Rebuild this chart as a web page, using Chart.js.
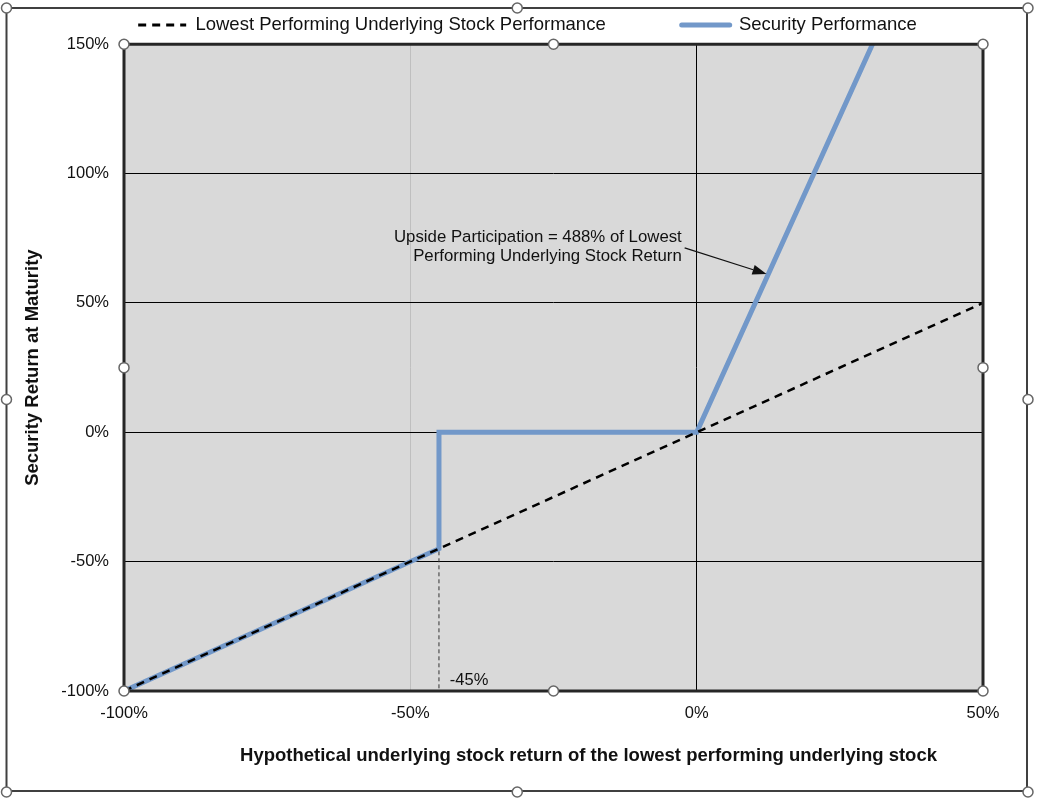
<!DOCTYPE html>
<html><head><meta charset="utf-8">
<script src="https://cdn.jsdelivr.net/npm/chart.js@4/dist/chart.umd.min.js"></script>
<style>html,body{margin:0;padding:0;background:#fff;} canvas{display:block;}</style>
</head><body>
<canvas id="c" width="1038" height="801"></canvas>
<script>
// ---- data ----
const xTicks = [-100, -50, 0, 50];
const yTicks = [-100, -50, 0, 50, 100, 150];
const seriesNames = ['Lowest Performing Underlying Stock Performance', 'Security Performance'];
const underlyingX = [-100, 50];
const underlyingY = [-100, 50];
const securityX = [-100, -45, -45, 0, 30.7];
const securityY = [-100, -45, 0, 0, 150];
const barrierX = [-45, -45];
const barrierY = [0, -100];
const xTitle = 'Hypothetical underlying stock return of the lowest performing underlying stock';
const yTitle = 'Security Return at Maturity';
const noteLines = ['Upside Participation = 488% of Lowest', 'Performing Underlying Stock Return'];
const barrierLabel = '-45%';

// annotation anchors (data units)
const notePos = { textX: -2.6, lineY: [75.3, 68.0], arrowFrom: [-2.1, 71.3], arrowTo: [12.2, 61.2] };
const barrierLabelPos = { x: -43.1, y: -96.1 };

const F = '"Liberation Sans", Arial, Helvetica, sans-serif';
const BLUE = 'rgb(114,152,201)';
Chart.defaults.font.family = F;

const pts = (xs, ys) => xs.map((x, i) => ({ x: x, y: ys[i] }));

const decor = {
  id: 'decor',
  afterLayout(chart) {
    // Excel places the x title slightly right of the plot centre
    chart.scales.x.right += 70;
  },
  beforeDraw(chart) {
    const { ctx, chartArea: a } = chart;
    ctx.save();
    ctx.fillStyle = '#fff';
    ctx.fillRect(0, 0, chart.width, chart.height);
    ctx.fillStyle = '#d9d9d9';
    ctx.fillRect(a.left, a.top, a.right - a.left, a.bottom - a.top);
    ctx.restore();
  },
  afterDatasetsDraw(chart) {
    const { ctx } = chart;
    const xs = chart.scales.x, ys = chart.scales.y;
    ctx.save();
    ctx.fillStyle = '#111';
    ctx.font = '16.8px ' + F;
    ctx.textAlign = 'right';
    ctx.textBaseline = 'middle';
    noteLines.forEach((t, i) => ctx.fillText(t, xs.getPixelForValue(notePos.textX), ys.getPixelForValue(notePos.lineY[i])));
    // arrow
    const x1 = xs.getPixelForValue(notePos.arrowFrom[0]), y1 = ys.getPixelForValue(notePos.arrowFrom[1]);
    const x2 = xs.getPixelForValue(notePos.arrowTo[0]), y2 = ys.getPixelForValue(notePos.arrowTo[1]);
    const ang = Math.atan2(y2 - y1, x2 - x1), hl = 14, hw = 5;
    const bx = x2 - hl * Math.cos(ang), by = y2 - hl * Math.sin(ang);
    ctx.strokeStyle = '#111'; ctx.lineWidth = 1.2;
    ctx.beginPath(); ctx.moveTo(x1, y1); ctx.lineTo(bx, by); ctx.stroke();
    ctx.beginPath();
    ctx.moveTo(x2, y2);
    ctx.lineTo(bx + hw * Math.sin(ang), by - hw * Math.cos(ang));
    ctx.lineTo(bx - hw * Math.sin(ang), by + hw * Math.cos(ang));
    ctx.closePath(); ctx.fill();
    // barrier label
    ctx.font = '16.5px ' + F;
    ctx.textAlign = 'left';
    ctx.fillText(barrierLabel, xs.getPixelForValue(barrierLabelPos.x), ys.getPixelForValue(barrierLabelPos.y));
    ctx.restore();
  },
  afterDraw(chart) {
    const { ctx, chartArea: a } = chart;
    ctx.save();
    // plot border
    ctx.strokeStyle = '#262626'; ctx.lineWidth = 3;
    ctx.strokeRect(a.left, a.top, a.right - a.left, a.bottom - a.top);
    // outer frame
    ctx.strokeStyle = '#404040'; ctx.lineWidth = 2;
    const L = 6.5, T = 8, R = 1027, B = 791;
    ctx.strokeRect(L, T, R - L, B - T);
    const handle = (x, y) => {
      ctx.beginPath(); ctx.arc(x, y, 5, 0, Math.PI * 2);
      ctx.fillStyle = '#fff'; ctx.fill();
      ctx.strokeStyle = '#666'; ctx.lineWidth = 1.5; ctx.stroke();
    };
    const mx = (a.left + a.right) / 2, my = (a.top + a.bottom) / 2;
    [[a.left, a.top], [mx, a.top], [a.right, a.top], [a.left, my], [a.right, my], [a.left, a.bottom], [mx, a.bottom], [a.right, a.bottom]].forEach(p => handle(p[0], p[1]));
    const fx = (L + R) / 2 + 0.5, fy = (T + B) / 2;
    [[L, T], [fx, T], [R + 1, T], [L, fy], [R + 1, fy], [L, B + 1], [fx, B + 1], [R + 1, B + 1]].forEach(p => handle(p[0], p[1]));
    ctx.restore();
  }
};

new Chart(document.getElementById('c'), {
  type: 'scatter',
  data: {
    datasets: [
      { label: seriesNames[0], data: pts(underlyingX, underlyingY), showLine: true, borderColor: '#000', backgroundColor: '#000',
        borderWidth: 2.5, borderDash: [8, 6], pointRadius: 0, fill: false },
      { label: seriesNames[1], data: pts(securityX, securityY), showLine: true, borderColor: BLUE, backgroundColor: BLUE,
        borderWidth: 5, borderCapStyle: 'round', borderJoinStyle: 'miter', pointRadius: 0, fill: false },
      { label: 'barrier', data: pts(barrierX, barrierY), showLine: true, borderColor: '#333', borderWidth: 1,
        borderDash: [4, 3], pointRadius: 0, fill: false }
    ]
  },
  options: {
    responsive: false, animation: false, devicePixelRatio: 1,
    layout: { padding: { left: 17, right: 0, top: -60.25, bottom: 0 } },
    plugins: {
      tooltip: { enabled: false },
      legend: {
        position: 'top',
        labels: {
          filter: (item) => item.datasetIndex < 2,
          generateLabels: (chart) => Chart.defaults.plugins.legend.labels.generateLabels(chart).map((l) => {
            const ds = chart.data.datasets[l.datasetIndex];
            l.lineDash = ds.borderDash || [];
            l.lineWidth = l.datasetIndex === 0 ? 3 : 5;
            l.lineCap = l.datasetIndex === 0 ? 'butt' : 'round';
            l.strokeStyle = ds.borderColor;
            return l;
          }),
          usePointStyle: true, pointStyle: 'line', pointStyleWidth: 48,
          padding: 76, color: '#111', font: { family: F, size: 18.5 }
        }
      }
    },
    scales: {
      x: {
        type: 'linear', position: 'bottom', min: -100, max: 50,
        afterBuildTicks: (s) => { s.ticks = xTicks.map(v => ({ value: v })); },
        grid: { drawTicks: false, lineWidth: 1,
          color: (c) => (c.tick && c.tick.value === 0) ? '#000' : ((c.tick && c.tick.value === -50) ? '#bfbfbf' : 'rgba(0,0,0,0)') },
        border: { display: false },
        ticks: { callback: (v) => v + '%', color: '#111', font: { size: 16.5 }, padding: 13, maxRotation: 0, autoSkip: false },
        title: { display: true, text: xTitle, color: '#111', font: { size: 18.5, weight: 'bold' }, padding: { top: 0, bottom: 34 } },
        afterFit: (s) => { s.height = 110; }
      },
      y: {
        type: 'linear', position: 'left', min: -100, max: 150,
        afterBuildTicks: (s) => { s.ticks = yTicks.map(v => ({ value: v })); },
        grid: { drawTicks: false, lineWidth: 1, color: '#000' },
        border: { display: false },
        ticks: { callback: (v) => v + '%', color: '#111', font: { size: 16.5 }, padding: 15, autoSkip: false },
        title: { display: true, text: yTitle, color: '#111', font: { size: 18.5, weight: 'bold' }, padding: { top: 5, bottom: 0 } },
        afterFit: (s) => { s.width = 107; }
      },
      yPad: {
        type: 'linear', position: 'right', display: true,
        grid: { display: false }, border: { display: false }, ticks: { display: false }, title: { display: false },
        afterFit: (s) => { s.width = 55; }
      }
    }
  },
  plugins: [decor]
});
</script>
</body></html>
